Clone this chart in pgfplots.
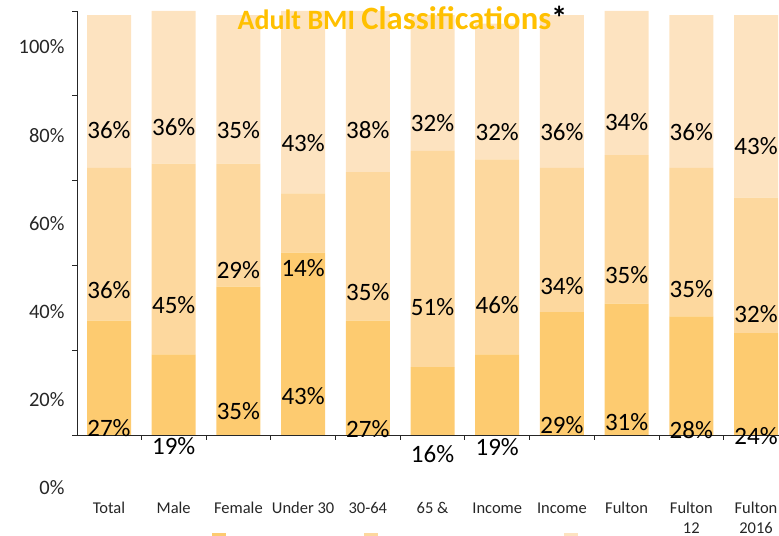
\documentclass[border=0pt]{standalone}
\usepackage{pgfplots}
\pgfplotsset{compat=1.18}
\usepackage{fontspec}
\setmainfont{Carlito}
\definecolor{cobese}{RGB}{253,203,112}
\definecolor{cover}{RGB}{253,216,158}
\definecolor{cnorm}{RGB}{253,227,192}
\definecolor{gold}{RGB}{255,192,0}
\begin{document}
\begin{tikzpicture}
\useasboundingbox (0,0) rectangle (779bp,536bp);
\clip (0,0) rectangle (779bp,536bp);
\pgfplotsset{common/.style={scale only axis, width=702bp, height=424bp,
  at={(77bp,101bp)}, anchor=south west, xmin=-0.4946, xmax=10.355}}
% main axis: bars, ticks, title, legend
\begin{axis}[common,
  ybar stacked, bar width=44bp,
  ymin=0, ymax=100,
  axis lines*=left,
  axis line style={black!85, line width=0.8bp},
  tick style={black!85, line width=0.8bp},
  tick align=outside, major tick length=5bp,
  ytick={0,20,40,60,80,100}, yticklabels={{},{},{},{},{},{}},
  xtick={-0.5,0.5,...,9.5}, xticklabels={{},{},{},{},{},{},{},{},{},{},{}},
  extra x ticks={0,1,2,3,4,5,6,7,8,9,10},
  extra x tick labels={Total,Male,Female,Under 30,30-64,65 \&,Income,Income,Fulton,{Fulton\\12},{Fulton\\2016}},
  extra x tick style={major tick length=0pt, tick style={draw=none}},
  xticklabel style={align=center, font=\fontsize{16.5bp}{20bp}\selectfont, text=black!85, yshift=-64bp},
  every axis title shift=0pt,
  title={\textcolor{gold}{\bfseries\fontsize{28bp}{30bp}\selectfont Adult BMI \fontsize{32.6bp}{34bp}\selectfont Classifications}\textcolor{black}{\bfseries\fontsize{32.6bp}{34bp}\selectfont *}},
  title style={at={(axis description cs:0.4637,0.9575)}, anchor=base, inner sep=0pt},
  legend columns=3,
  legend style={draw=none, fill=none, inner sep=0pt, outer sep=0pt,
    at={(axis description cs:0.1923,-0.2311)}, anchor=north west,
    nodes={inner sep=0pt}, font=\fontsize{16.5bp}{20bp}\selectfont,
    /tikz/every even column/.style={column sep=0pt}},
  legend image code/.code={\draw[#1,draw=none] (0bp,4bp) rectangle (14bp,18bp);},
]
\addplot[fill=cobese, draw=none] coordinates {(0,27) (1,19) (2,35) (3,43) (4,27) (5,16) (6,19) (7,29) (8,31) (9,28) (10,24)};
\addlegendentry{\makebox[138bp][l]{Obese}}
\addplot[fill=cover, draw=none] coordinates {(0,36) (1,45) (2,29) (3,14) (4,35) (5,51) (6,46) (7,34) (8,35) (9,35) (10,32)};
\addlegendentry{\makebox[186bp][l]{Overweight}}
\addplot[fill=cnorm, draw=none] coordinates {(0,36) (1,36) (2,35) (3,43) (4,38) (5,32) (6,32) (7,36) (8,34) (9,36) (10,43)};
\addlegendentry{\makebox[120bp][l]{Normal weight}}
\end{axis}
% y tick labels (offset scale as in the reference)
\begin{axis}[scale only axis, width=702bp, height=441bp, at={(77bp,48bp)}, anchor=south west,
  xmin=0, xmax=1, ymin=0, ymax=100,
  axis line style={draw=none}, tick style={draw=none}, major tick length=0pt,
  xtick=\empty, ytick={0,20,40,60,80,100},
  yticklabels={0\%,20\%,40\%,60\%,80\%,100\%},
  yticklabel style={font=\fontsize{20.5bp}{22bp}\selectfont, text=black!85, xshift=-9bp}]
\addplot[draw=none] coordinates {(0,0)};
\end{axis}
% data labels
\begin{axis}[common, ymin=0, ymax=100, hide axis, clip=false]
\addplot[draw=none, mark=none,
  nodes near coords, point meta=explicit symbolic,
  nodes near coords style={anchor=center, inner sep=0pt, text=black,
    font=\fontsize{25bp}{28bp}\selectfont}]
coordinates {
(0,71.9) [36\%] (0,34.2) [36\%] (0,1.65) [27\%]
(1,72.6) [36\%] (1,30.7) [45\%] (1,-2.6) [19\%]
(2,71.9) [35\%] (2,38.9) [29\%] (2,5.7) [35\%]
(3,68.9) [43\%] (3,39.4) [14\%] (3,9.2) [43\%]
(4,71.9) [38\%] (4,33.7) [35\%] (4,1.4) [27\%]
(5,73.6) [32\%] (5,30.2) [51\%] (5,-4.5) [16\%]
(6,71.5) [32\%] (6,30.7) [46\%] (6,-2.8) [19\%]
(7,71.5) [36\%] (7,35.1) [34\%] (7,2.4) [29\%]
(8,73.8) [34\%] (8,37.7) [35\%] (8,3.1) [31\%]
(9,71.5) [36\%] (9,34.4) [35\%] (9,1.2) [28\%]
(10,68.2) [43\%] (10,28.5) [32\%] (10,-0.2) [24\%]
};
\end{axis}
\end{tikzpicture}
\end{document}
